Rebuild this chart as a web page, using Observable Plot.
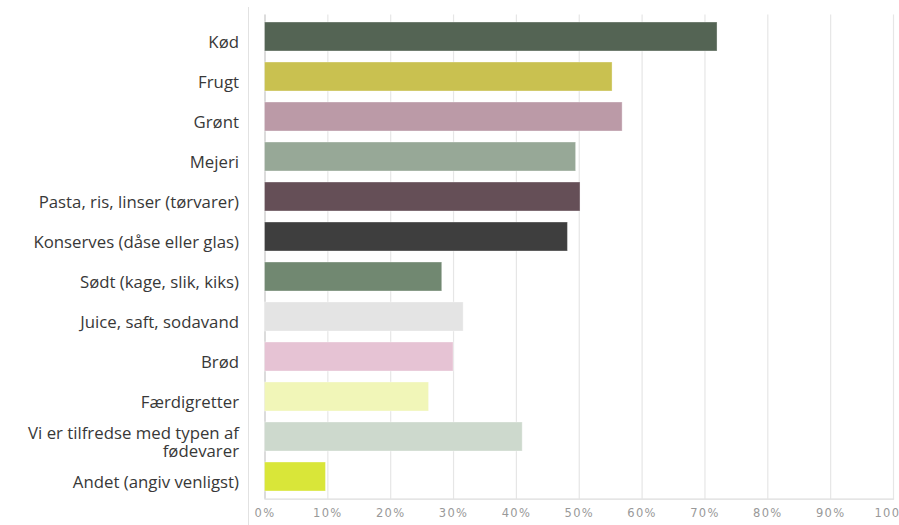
<!DOCTYPE html>
<html>
<head>
<meta charset="utf-8">
<script src="https://cdn.jsdelivr.net/npm/d3@7"></script>
<script src="https://cdn.jsdelivr.net/npm/@observablehq/plot@0.6"></script>
<style>
  html, body { margin: 0; padding: 0; background: #fff; overflow: hidden; }
  #wrap { position: relative; width: 899px; height: 525px; }
  #sep { position: absolute; left: 248px; top: 7px; bottom: 0; width: 1px; background: #e2e2e2; }
  svg { display: block; }
  g[aria-label="x-axis tick label"] text { letter-spacing: 1.3px; }
</style>
</head>
<body>
<div id="wrap"><div id="sep"></div></div>
<script>
const categories = [
  "Kød",
  "Frugt",
  "Grønt",
  "Mejeri",
  "Pasta, ris, linser (tørvarer)",
  "Konserves (dåse eller glas)",
  "Sødt (kage, slik, kiks)",
  "Juice, saft, sodavand",
  "Brød",
  "Færdigretter",
  "Vi er tilfredse med typen af\nfødevarer",
  "Andet (angiv venligst)"
];
const values = [0.72, 0.553, 0.569, 0.495, 0.502, 0.482, 0.282, 0.316, 0.300, 0.261, 0.410, 0.097];
const colors = ["#546454", "#c9c150", "#bb9aa7", "#97a897", "#654f57", "#3e3e3e",
                "#718871", "#e4e4e4", "#e6c3d4", "#f1f6b8", "#cdd9cd", "#d9e639"];
const xTicks = [0, 0.1, 0.2, 0.3, 0.4, 0.5, 0.6, 0.7, 0.8, 0.9, 1.0];

const data = categories.map((c, i) => ({category: c, value: values[i]}));

const chart = Plot.plot({
  width: 899,
  height: 525,
  marginLeft: 264.5,
  marginRight: 6,
  marginTop: 14.4,
  marginBottom: 26.3,
  style: {background: "transparent", overflow: "visible"},
  x: {domain: [0, 1], label: null},
  y: {domain: categories, paddingInner: 0.28, paddingOuter: 0.14, label: null, axis: null},
  color: {domain: categories, range: colors},
  marks: [
    Plot.gridX(xTicks, {stroke: "#e6e6e6", strokeOpacity: 1, strokeWidth: 1.2}),
    Plot.ruleX([0], {stroke: "#cfcfcf", strokeWidth: 1.2}),
    Plot.frame({anchor: "bottom", stroke: "#dcdcdc", strokeWidth: 1.2}),
    Plot.barX(data, {x: "value", y: "category", fill: "category", stroke: "#ffffff", strokeOpacity: 0.35, strokeWidth: 1}),
    Plot.text(categories, {
      y: d => d,
      frameAnchor: "left",
      dx: -26,
      dy: 5,
      textAnchor: "end",
      lineAnchor: "middle",
      lineHeight: 1.08,
      fill: "#383838",
      fontSize: 16.8,
      fontFamily: "'Open Sans', Lato, sans-serif"
    }),
    Plot.axisX(xTicks, {
      tickSize: 0,
      tickPadding: 10,
      tickFormat: d => Math.round(d * 100) + "%",
      fill: "#999999",
      fontSize: 11.5,
      fontFamily: "'DejaVu Sans', sans-serif",
      label: null
    })
  ]
});
document.getElementById("wrap").appendChild(chart);
</script>
</body>
</html>
